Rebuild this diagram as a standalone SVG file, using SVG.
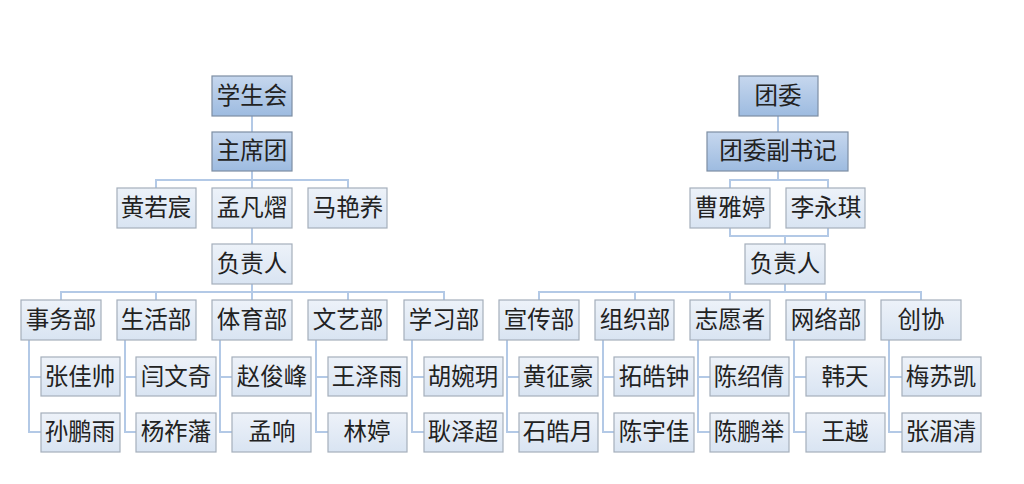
<svg xmlns="http://www.w3.org/2000/svg" width="1024" height="484" viewBox="0 0 1024 484">
<defs>
<linearGradient id="dk" x1="0" y1="0" x2="0" y2="1"><stop offset="0" stop-color="#c6d7ee"/><stop offset="1" stop-color="#9dbbe0"/></linearGradient>
<linearGradient id="lt" x1="0" y1="0" x2="0" y2="1"><stop offset="0" stop-color="#edf2f9"/><stop offset="1" stop-color="#d9e4f2"/></linearGradient>
</defs>
<style>
rect.d{fill:url(#dk);stroke:#7d8ea3;stroke-width:1.2}
rect.l{fill:url(#lt);stroke:#a5afbb;stroke-width:1.2}
text{font-family:"Liberation Sans","Noto Sans CJK SC",sans-serif;font-size:23.5px;fill:#222;text-anchor:middle;dominant-baseline:central}
#connectors path{fill:none;stroke:#b3c9e6;stroke-width:2}
</style>
<rect width="1024" height="484" fill="#fff"/>
<g id="connectors">
<path d="M252 116V132M252 171V188M156 188V180H348V188M252 228V244M252 284V300M61 300V292H444V300M156 292V300M348 292V300"/>
<path d="M29 340V432H41M29 377H41M125 340V432H136M125 377H136M220 340V432H232M220 377H232M316 340V432H328M316 377H328M412 340V432H424M412 377H424"/>
<path d="M778 116V132M778 171V180M730 188V180H828V188M730 228V236H828V228M785 236V244M785 284V292M539 300V292H921V300M635 292V300M730 292V300M826 292V300"/>
<path d="M507 340V432H519M507 377H519M603 340V432H614M603 377H614M698 340V432H710M698 377H710M794 340V432H806M794 377H806M889 340V432H902M889 377H902"/>
</g>
<g id="n1"><rect class="d" x="212" y="76" width="80" height="40"/><text x="252" y="96">学生会</text></g>
<g id="n2"><rect class="d" x="212" y="132" width="80" height="39"/><text x="252" y="151">主席团</text></g>
<g id="n3"><rect class="l" x="117" y="188" width="79" height="40"/><text x="156" y="208">黄若宸</text></g>
<g id="n4"><rect class="l" x="212" y="188" width="80" height="40"/><text x="252" y="208">孟凡熠</text></g>
<g id="n5"><rect class="l" x="308" y="188" width="79" height="40"/><text x="348" y="208">马艳养</text></g>
<g id="n6"><rect class="l" x="212" y="244" width="80" height="40"/><text x="252" y="264">负责人</text></g>
<g id="d1"><rect class="l" x="21" y="300" width="80" height="40"/><text x="61" y="320">事务部</text></g>
<g id="d2"><rect class="l" x="117" y="300" width="79" height="40"/><text x="156" y="320">生活部</text></g>
<g id="d3"><rect class="l" x="212" y="300" width="80" height="40"/><text x="252" y="320">体育部</text></g>
<g id="d4"><rect class="l" x="308" y="300" width="79" height="40"/><text x="348" y="320">文艺部</text></g>
<g id="d5"><rect class="l" x="404" y="300" width="79" height="40"/><text x="444" y="320">学习部</text></g>
<g id="m1"><rect class="l" x="41" y="357" width="79" height="39"/><text x="80" y="377">张佳帅</text></g>
<g id="m2"><rect class="l" x="41" y="413" width="79" height="39"/><text x="80" y="432">孙鹏雨</text></g>
<g id="m3"><rect class="l" x="136" y="357" width="80" height="39"/><text x="176" y="377">闫文奇</text></g>
<g id="m4"><rect class="l" x="136" y="413" width="80" height="39"/><text x="176" y="432">杨祚藩</text></g>
<g id="m5"><rect class="l" x="232" y="357" width="79" height="39"/><text x="272" y="377">赵俊峰</text></g>
<g id="m6"><rect class="l" x="232" y="413" width="79" height="39"/><text x="272" y="432">孟响</text></g>
<g id="m7"><rect class="l" x="328" y="357" width="79" height="39"/><text x="367" y="377">王泽雨</text></g>
<g id="m8"><rect class="l" x="328" y="413" width="79" height="39"/><text x="367" y="432">林婷</text></g>
<g id="m9"><rect class="l" x="424" y="357" width="79" height="39"/><text x="463" y="377">胡婉玥</text></g>
<g id="m10"><rect class="l" x="424" y="413" width="79" height="39"/><text x="463" y="432">耿泽超</text></g>
<g id="r1"><rect class="d" x="739" y="76" width="79" height="40"/><text x="778" y="96">团委</text></g>
<g id="r2"><rect class="d" x="707" y="132" width="141" height="39"/><text x="778" y="151">团委副书记</text></g>
<g id="r3"><rect class="l" x="690" y="188" width="80" height="40"/><text x="730" y="208">曹雅婷</text></g>
<g id="r4"><rect class="l" x="786" y="188" width="79" height="40"/><text x="826" y="208">李永琪</text></g>
<g id="r5"><rect class="l" x="745" y="244" width="80" height="40"/><text x="785" y="264">负责人</text></g>
<g id="e1"><rect class="l" x="499" y="300" width="80" height="40"/><text x="539" y="320">宣传部</text></g>
<g id="e2"><rect class="l" x="595" y="300" width="79" height="40"/><text x="635" y="320">组织部</text></g>
<g id="e3"><rect class="l" x="690" y="300" width="80" height="40"/><text x="730" y="320">志愿者</text></g>
<g id="e4"><rect class="l" x="786" y="300" width="79" height="40"/><text x="826" y="320">网络部</text></g>
<g id="e5"><rect class="l" x="881" y="300" width="80" height="40"/><text x="921" y="320">创协</text></g>
<g id="p1"><rect class="l" x="519" y="357" width="79" height="39"/><text x="558" y="377">黄征豪</text></g>
<g id="p2"><rect class="l" x="519" y="413" width="79" height="39"/><text x="558" y="432">石皓月</text></g>
<g id="p3"><rect class="l" x="614" y="357" width="80" height="39"/><text x="654" y="377">拓皓钟</text></g>
<g id="p4"><rect class="l" x="614" y="413" width="80" height="39"/><text x="654" y="432">陈宇佳</text></g>
<g id="p5"><rect class="l" x="710" y="357" width="79" height="39"/><text x="749" y="377">陈绍倩</text></g>
<g id="p6"><rect class="l" x="710" y="413" width="79" height="39"/><text x="749" y="432">陈鹏举</text></g>
<g id="p7"><rect class="l" x="806" y="357" width="79" height="39"/><text x="845" y="377">韩天</text></g>
<g id="p8"><rect class="l" x="806" y="413" width="79" height="39"/><text x="845" y="432">王越</text></g>
<g id="p9"><rect class="l" x="902" y="357" width="79" height="39"/><text x="941" y="377">梅苏凯</text></g>
<g id="p10"><rect class="l" x="902" y="413" width="79" height="39"/><text x="941" y="432">张湄清</text></g>
</svg>
